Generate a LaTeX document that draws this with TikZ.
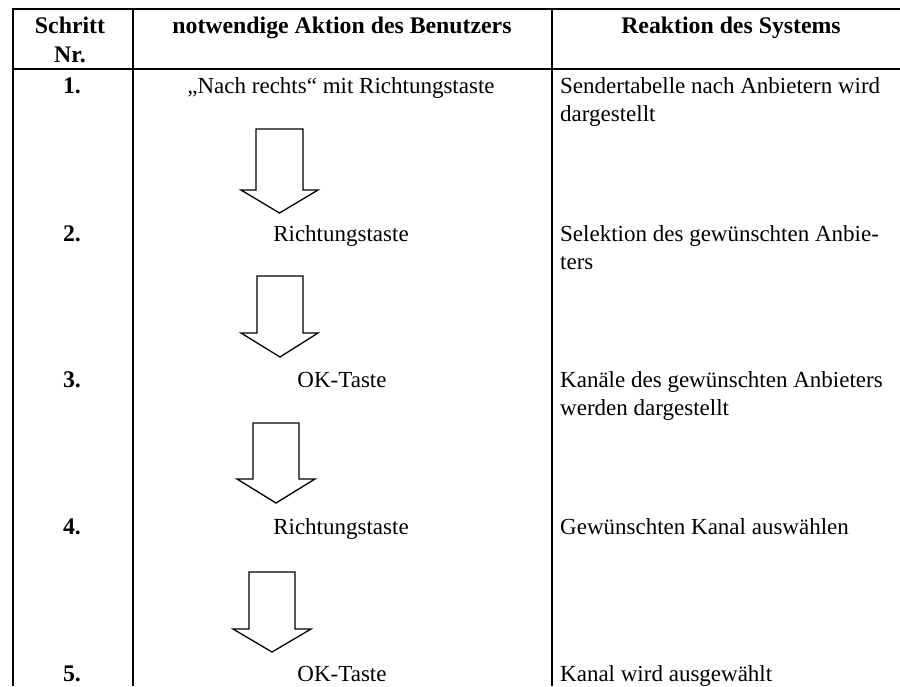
\documentclass[tikz,border=0pt]{standalone}
\usepackage{fontspec}
\setmainfont{Liberation Serif}
\begin{document}
\begin{tikzpicture}[x=1pt,y=-1pt,
  rule/.style={line width=2pt,black},
  blockarrow/.style={line width=1.3pt,black,line join=miter},
  hdr/.style={font=\fontsize{23.8}{28}\selectfont\bfseries,anchor=base,inner sep=0pt},
  body/.style={font=\fontsize{23}{27}\selectfont,anchor=base,inner sep=0pt},
  bodyl/.style={body,anchor=base west}]
\useasboundingbox (0,0) rectangle (900,686);
% table rules
\draw[rule] (13,9) -- (900,9);
\draw[rule] (13,69) -- (900,69);
\draw[rule] (13,8) -- (13,686);
\draw[rule] (133,8) -- (133,686);
\draw[rule] (552,8) -- (552,686);
% header
\node[hdr] (h1a) at (70,33) {Schritt};
\node[hdr] (h1b) at (70,62) {Nr.};
\node[hdr] (h2) at (342,33) {notwendige Aktion des Benutzers};
\node[hdr] (h3) at (731,33) {Reaktion des Systems};
% step numbers
\node[hdr] (n1) at (72,93) {1.};
\node[hdr] (n2) at (72,241) {2.};
\node[hdr] (n3) at (72,387) {3.};
\node[hdr] (n4) at (72,534) {4.};
\node[hdr] (n5) at (72,681) {5.};
% user actions
\node[body] (a1) at (341,93) {„Nach rechts“ mit Richtungstaste};
\node[body] (a2) at (341,241) {Richtungstaste};
\node[body] (a3) at (342,387) {OK-Taste};
\node[body] (a4) at (341,534) {Richtungstaste};
\node[body] (a5) at (342,681) {OK-Taste};
% system reactions
\node[bodyl] (r1a) at (560,93) {Sendertabelle nach Anbietern wird};
\node[bodyl] (r1b) at (560,121) {dargestellt};
\node[bodyl] (r2a) at (560,241) {Selektion des gewünschten Anbie-};
\node[bodyl] (r2b) at (560,269) {ters};
\node[bodyl] (r3a) at (560,387) {Kanäle des gewünschten Anbieters};
\node[bodyl] (r3b) at (560,415) {werden dargestellt};
\node[bodyl] (r4) at (560,534) {Gewünschten Kanal auswählen};
\node[bodyl] (r5) at (560,681) {Kanal wird ausgewählt};
% block arrows
\draw[blockarrow] (256,129) -- (303,129) -- (303,190) -- (318,190) -- (279.5,213) -- (241,190) -- (256,190) -- cycle;
\draw[blockarrow] (257,276) -- (303,276) -- (303,333) -- (318,333) -- (280,357) -- (241,333) -- (257,333) -- cycle;
\draw[blockarrow] (253,423) -- (299,423) -- (299,479) -- (315,479) -- (276,503) -- (237,479) -- (253,479) -- cycle;
\draw[blockarrow] (249,572) -- (295,572) -- (295,629) -- (311,629) -- (272,652) -- (233,629) -- (249,629) -- cycle;
\end{tikzpicture}
\end{document}
